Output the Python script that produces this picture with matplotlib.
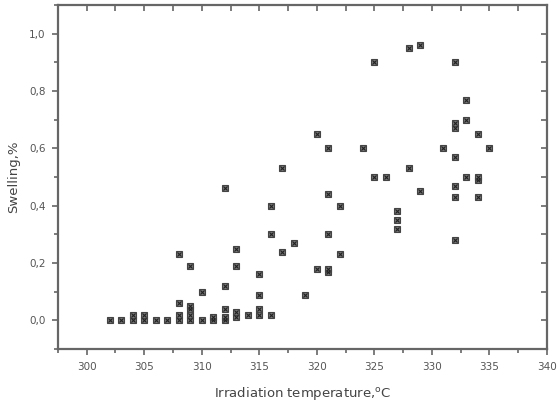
import numpy as np
import matplotlib
matplotlib.use('Agg')
import matplotlib.pyplot as plt
from matplotlib.ticker import MultipleLocator, FuncFormatter, NullFormatter

# irradiation temperature (C) and measured swelling (%)
temperature = [302, 303, 304, 304, 305, 305, 306, 307,
               308, 308, 308, 308,
               309, 309, 309, 309, 309,
               310, 310,
               311, 311,
               312, 312, 312, 312, 312,
               313, 313, 313, 313,
               314,
               315, 315, 315, 315,
               316, 316, 316,
               317, 317,
               318,
               319,
               320, 320,
               321, 321, 321, 321, 321,
               322, 322,
               324,
               325, 325,
               326,
               327, 327, 327,
               328, 328,
               329, 329,
               331,
               332, 332, 332, 332, 332, 332, 332,
               333, 333, 333,
               334, 334, 334, 334,
               335]
swelling = [0.0, 0.0, 0.0, 0.02, 0.0, 0.02, 0.0, 0.0,
            0.0, 0.02, 0.06, 0.23,
            0.0, 0.02, 0.04, 0.05, 0.19,
            0.0, 0.10,
            0.0, 0.01,
            0.0, 0.01, 0.04, 0.12, 0.46,
            0.01, 0.03, 0.19, 0.25,
            0.02,
            0.02, 0.04, 0.09, 0.16,
            0.02, 0.30, 0.40,
            0.24, 0.53,
            0.27,
            0.09,
            0.18, 0.65,
            0.17, 0.18, 0.30, 0.44, 0.60,
            0.23, 0.40,
            0.60,
            0.50, 0.90,
            0.50,
            0.32, 0.35, 0.38,
            0.53, 0.95,
            0.45, 0.96,
            0.60,
            0.28, 0.43, 0.47, 0.57, 0.67, 0.69, 0.90,
            0.50, 0.70, 0.77,
            0.43, 0.49, 0.50, 0.65,
            0.60]

fig = plt.figure(figsize=(5.57, 4.16), dpi=100)
ax = fig.add_axes([0.104, 0.161, 0.878, 0.827])

ax.plot(temperature, swelling, linestyle='none', marker='s', markersize=4.5,
        mfc='#777777', mec='#444444', mew=0.8)
ax.plot(temperature, swelling, linestyle='none', marker='x', markersize=3.5,
        color='#222222', mew=0.8)

ax.set_xlim(297.5, 340)
ax.set_ylim(-0.1, 1.1)

ax.xaxis.set_major_locator(MultipleLocator(5))
ax.xaxis.set_minor_locator(MultipleLocator(2.5))
ax.yaxis.set_major_locator(MultipleLocator(0.2))
ax.yaxis.set_minor_locator(MultipleLocator(0.1))
ax.yaxis.set_major_formatter(FuncFormatter(lambda v, p: f"{v:.1f}".replace('.', ',')))
ax.xaxis.set_major_formatter(FuncFormatter(lambda v, p: f"{v:.0f}"))

axis_col = '#666666'
for s in ax.spines.values():
    s.set_linewidth(1.6)
    s.set_color(axis_col)

# left/bottom ticks point outward, top/right ones inward
ax.tick_params(which='both', direction='out', color=axis_col, width=1.2,
               labelcolor='#555555', labelsize=7.5)
ax.tick_params(which='major', length=4, pad=5)
ax.tick_params(which='minor', length=3)

top = ax.secondary_xaxis('top')
top.xaxis.set_major_locator(MultipleLocator(2.5))
top.xaxis.set_major_formatter(NullFormatter())
top.tick_params(direction='in', length=4, width=1.2, color=axis_col)
top.spines['top'].set_visible(False)

right = ax.secondary_yaxis('right')
right.yaxis.set_major_locator(MultipleLocator(0.1))
right.yaxis.set_major_formatter(NullFormatter())
right.tick_params(direction='in', length=4, width=1.2, color=axis_col)
right.spines['right'].set_visible(False)

ax.set_xlabel('Irradiation temperature,$^{\\rm o}$C', fontsize=9.5, color='#444444', labelpad=10)
ax.set_ylabel('Swelling,%', fontsize=9.5, color='#444444', labelpad=6)

fig.savefig('out.png', dpi=100)
